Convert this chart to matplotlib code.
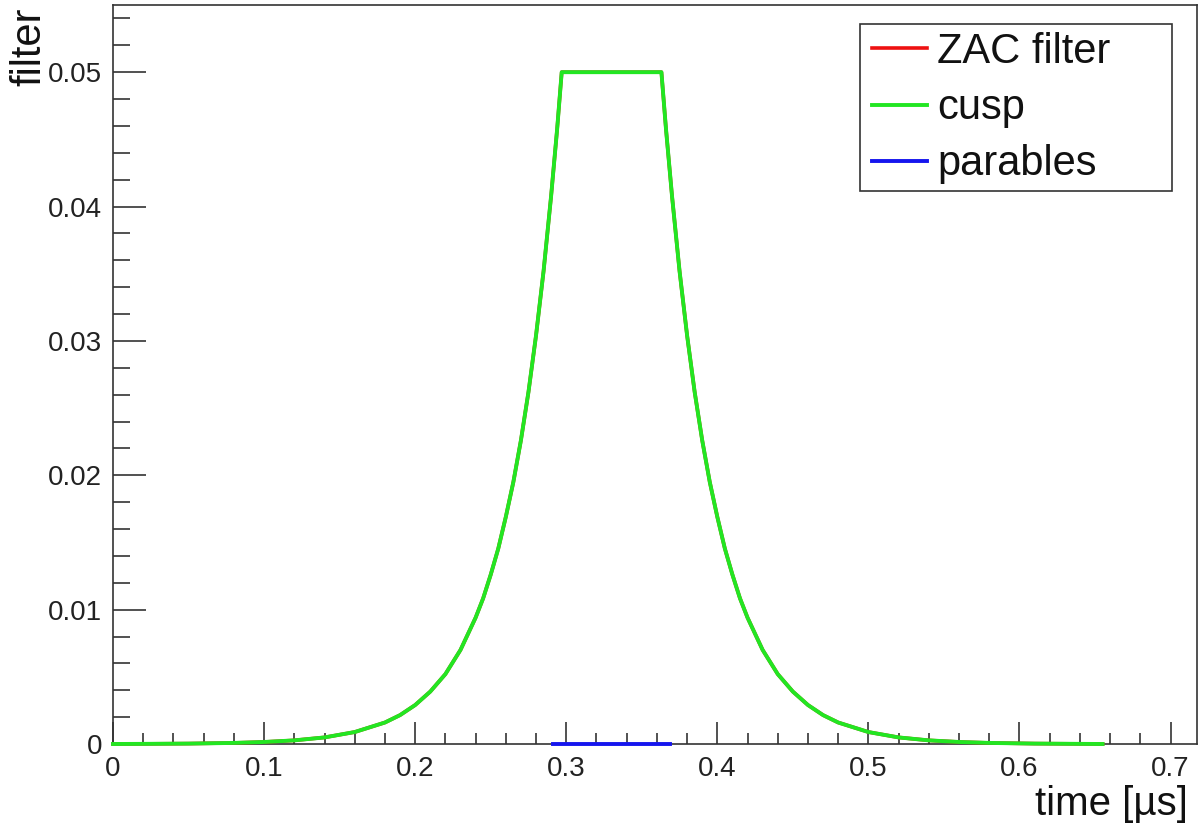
import matplotlib
matplotlib.use("Agg")
import matplotlib.pyplot as plt
from matplotlib.patches import Rectangle
from matplotlib.ticker import MultipleLocator, FuncFormatter

# ---- data ----
cusp_t = [0.0, 0.02, 0.05, 0.08, 0.10, 0.12, 0.14, 0.16, 0.18, 0.19, 0.20, 0.21,
          0.22, 0.23, 0.24, 0.245, 0.25, 0.255, 0.26, 0.265, 0.27, 0.275, 0.28,
          0.285, 0.29, 0.294, 0.297,
          0.363, 0.366, 0.370, 0.375, 0.380, 0.385, 0.390, 0.395, 0.400, 0.405,
          0.410, 0.415, 0.420, 0.430, 0.440, 0.450, 0.460, 0.470, 0.480, 0.500,
          0.520, 0.540, 0.560, 0.580, 0.610, 0.640, 0.655]
cusp_v = [0.0, 0.00001, 0.00003, 0.00008, 0.00015, 0.00027, 0.00049, 0.00089,
          0.0016, 0.00215, 0.0029, 0.0039, 0.0052, 0.0070, 0.0094, 0.01084,
          0.0126, 0.01454, 0.0169, 0.0195, 0.0226, 0.0262, 0.0304, 0.0352,
          0.0408, 0.0458, 0.05,
          0.05, 0.0458, 0.0408, 0.0352, 0.0304, 0.0262, 0.0226, 0.0195, 0.0169,
          0.01454, 0.0126, 0.01084, 0.0094, 0.0070, 0.0052, 0.0039, 0.0029,
          0.00215, 0.0016, 0.00089, 0.00049, 0.00027, 0.00015, 0.00008,
          0.00003, 0.00001, 0.0]
zac_t = cusp_t
zac_v = cusp_v
parab_t = [0.291, 0.369]
parab_v = [0.0, 0.0]

series_labels = ["ZAC filter", "cusp", "parables"]
x_label = "time [µs]"
y_label = "filter"

plt.rcParams['font.family'] = ['Liberation Sans', 'DejaVu Sans']

W, H = 1200, 824
fig = plt.figure(figsize=(12, 8.24), dpi=100)
ax = fig.add_axes([113 / W, 1 - 744 / H, (1197 - 113) / W, (744 - 5) / H])

l1, = ax.plot(zac_t, zac_v, color='#ee1111', lw=2.6, clip_on=False, zorder=3)
l2, = ax.plot(cusp_t, cusp_v, color='#22e622', lw=2.8, clip_on=False, zorder=4)
l3, = ax.plot(parab_t, parab_v, color='#1515ee', lw=2.8, clip_on=False, zorder=5)

ax.set_xlim(0, 0.7175)
ax.set_ylim(0, 0.055)

ax.xaxis.set_major_locator(MultipleLocator(0.1))
ax.xaxis.set_minor_locator(MultipleLocator(0.02))
ax.yaxis.set_major_locator(MultipleLocator(0.01))
ax.yaxis.set_minor_locator(MultipleLocator(0.002))

def fmt(v, pos):
    s = f"{v:.2f}".rstrip('0').rstrip('.')
    return s
ax.xaxis.set_major_formatter(FuncFormatter(fmt))
ax.yaxis.set_major_formatter(FuncFormatter(fmt))

ax.tick_params(axis='x', which='major', direction='in', length=15.8, width=1.1,
               labelsize=20, pad=9, colors='#222222')
ax.tick_params(axis='x', which='minor', direction='in', length=7.9, width=1.1,
               colors='#222222')
ax.tick_params(axis='y', which='major', direction='in', length=23.8, width=1.1,
               labelsize=20, pad=8, colors='#222222')
ax.tick_params(axis='y', which='minor', direction='in', length=12.2, width=1.1,
               colors='#222222')
ax.tick_params(top=False, right=False, which='both')

for sp in ax.spines.values():
    sp.set_color('#333333')
    sp.set_linewidth(1.2)

fig.text(29 / W, 1 - 8 / H, y_label, rotation=90, ha='center', va='top',
         fontsize=30, color='#111111')
fig.text(1188 / W, 1 - 804 / H, x_label, ha='right', va='center',
         fontsize=29, color='#111111')

# legend box
rect = Rectangle((860 / W, 1 - 191 / H), 312 / W, 167 / H, transform=fig.transFigure,
                 facecolor='white', edgecolor='#333333', lw=1.2, zorder=10)
fig.patches.append(rect)
leg = fig.legend([l1, l2, l3], series_labels, loc='upper left',
                 bbox_to_anchor=(872 / W, 1 - 32 / H), frameon=False,
                 fontsize=30, handlelength=1.32, handletextpad=0.24,
                 labelspacing=0.39, borderpad=0, borderaxespad=0)
leg.set_zorder(11)
for t in leg.get_texts():
    t.set_color('#111111')

fig.savefig("out.png", dpi=100)
